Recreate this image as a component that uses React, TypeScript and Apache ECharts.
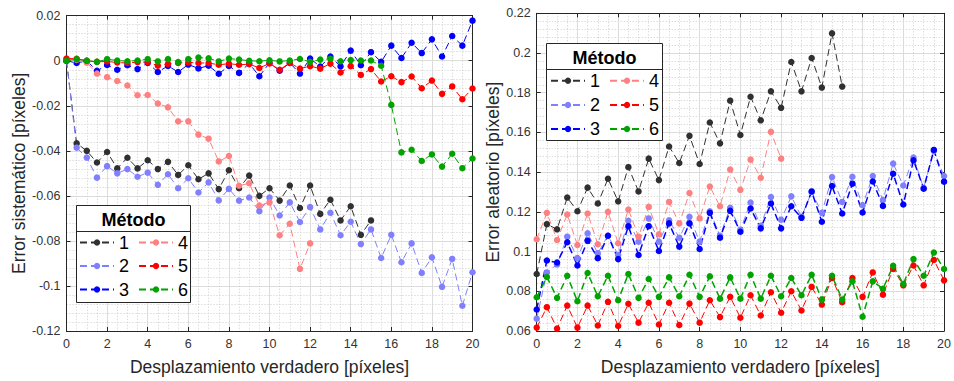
import React, { useEffect, useRef } from "react";
import * as echarts from "echarts";

const xs = [0, 0.5, 1, 1.5, 2, 2.5, 3, 3.5, 4, 4.5, 5, 5.5, 6, 6.5, 7, 7.5, 8, 8.5, 9, 9.5, 10, 10.5, 11, 11.5, 12, 12.5, 13, 13.5, 14, 14.5, 15, 15.5, 16, 16.5, 17, 17.5, 18, 18.5, 19, 19.5, 20];

// Error sistemático (left panel)
const sys1 = [0, -0.0367, -0.04, -0.0452, -0.0405, -0.0478, -0.0431, -0.0478, -0.0442, -0.0481, -0.0449, -0.0507, -0.0464, -0.0526, -0.05, -0.057, -0.0486, -0.0566, -0.051, -0.06, -0.0566, -0.0621, -0.0554, -0.0654, -0.0554, -0.068, -0.0617, -0.0709, -0.0646, -0.0773, -0.0709];
const sys2 = [0, -0.0386, -0.043, -0.0519, -0.0468, -0.05, -0.0481, -0.0515, -0.0497, -0.0551, -0.0504, -0.0566, -0.0522, -0.0585, -0.054, -0.062, -0.0569, -0.0621, -0.0607, -0.0668, -0.0607, -0.0687, -0.0629, -0.0716, -0.065, -0.0749, -0.0675, -0.0775, -0.0715, -0.0814, -0.0749, -0.0876, -0.0773, -0.0895, -0.0811, -0.0942, -0.0873, -0.1004, -0.088, -0.1088, -0.0939];
const sys3 = [0, -0.001, 0, -0.0045, -0.0019, -0.004, -0.002, -0.0037, -0.001, -0.005, -0.0023, -0.005, -0.0017, -0.0034, -0.0022, -0.0058, -0.0023, -0.0054, -0.0012, -0.0069, -0.001, -0.0044, -0.001, -0.0057, 0.001, -0.0026, 0.0019, -0.0025, 0.0045, -0.002, 0.0038, -0.0005, 0.0067, 0.0012, 0.008, 0.0034, 0.0095, 0.0019, 0.011, 0.0067, 0.0178];
const sys4 = [0.0008, 0.0004, -0.0009, -0.0057, -0.0073, -0.009, -0.011, -0.0153, -0.0152, -0.019, -0.0207, -0.0269, -0.0269, -0.0328, -0.0346, -0.0447, -0.0423, -0.0555, -0.0544, -0.0643, -0.0629, -0.0775, -0.0724, -0.0924, -0.0811];
const sys5 = [0.001, 0.0009, 0, -0.0005, -0.0003, -0.0008, -0.001, -0.0006, -0.0006, -0.0022, -0.0014, -0.001, -0.0007, -0.001, -0.001, -0.0018, -0.0013, -0.0018, -0.0015, -0.0032, -0.0012, -0.004, -0.001, -0.0035, -0.0024, -0.0035, -0.0013, -0.0052, -0.0024, -0.0063, -0.0037, -0.0092, -0.0069, -0.0095, -0.007, -0.0122, -0.0088, -0.0147, -0.0114, -0.0171, -0.0123];
const sys6 = [0, 0.0007, 0, -0.0005, 0.0007, 0.0001, -0.0002, 0.0001, 0.0007, -0.0003, 0.0007, -0.0006, 0.0007, 0.0014, 0.0011, -0.0003, 0.001, 0.0005, 0, -0.0002, 0.0002, -0.0003, 0.0001, 0.0008, -0.0005, 0.0005, 0.0009, -0.0002, 0.0003, 0.0001, 0.0001, -0.0022, -0.0196, -0.0407, -0.0395, -0.0445, -0.0416, -0.047, -0.0413, -0.0477, -0.0434];

// Error aleatorio (right panel)
const ale1 = [0.0887, 0.1138, 0.1112, 0.1272, 0.1203, 0.1322, 0.1242, 0.1367, 0.1253, 0.1425, 0.1303, 0.1468, 0.136, 0.1529, 0.1446, 0.1583, 0.1441, 0.165, 0.1545, 0.176, 0.1587, 0.178, 0.1661, 0.1807, 0.1724, 0.1955, 0.1807, 0.1975, 0.1826, 0.2099, 0.1831];
const ale2 = [0.0662, 0.0895, 0.0935, 0.1075, 0.0967, 0.1092, 0.0992, 0.108, 0.0983, 0.1155, 0.105, 0.1167, 0.105, 0.1158, 0.107, 0.1175, 0.105, 0.1203, 0.108, 0.122, 0.111, 0.1247, 0.113, 0.1275, 0.116, 0.1278, 0.1175, 0.13, 0.1195, 0.1375, 0.125, 0.1377, 0.1233, 0.138, 0.126, 0.1443, 0.1333, 0.1474, 0.132, 0.1507, 0.138];
const ale3 = [0.0708, 0.0955, 0.0945, 0.1047, 0.093, 0.1055, 0.0967, 0.108, 0.0962, 0.1128, 0.0983, 0.1128, 0.1003, 0.1142, 0.1025, 0.1142, 0.1013, 0.1195, 0.107, 0.1205, 0.11, 0.1217, 0.1117, 0.1242, 0.1117, 0.1228, 0.117, 0.1303, 0.115, 0.133, 0.1192, 0.1342, 0.1197, 0.1353, 0.123, 0.1392, 0.1237, 0.146, 0.1317, 0.1512, 0.1352];
const ale4 = [0.1062, 0.1195, 0.1058, 0.1187, 0.1033, 0.1192, 0.1037, 0.12, 0.1042, 0.1212, 0.1075, 0.1225, 0.1087, 0.125, 0.1142, 0.1295, 0.1167, 0.1328, 0.1228, 0.1413, 0.1311, 0.1463, 0.1372, 0.1603, 0.1468];
const ale5 = [0.0617, 0.072, 0.0612, 0.0728, 0.0617, 0.0728, 0.0628, 0.0747, 0.0625, 0.0737, 0.0642, 0.0742, 0.0633, 0.0742, 0.063, 0.0738, 0.0642, 0.0755, 0.067, 0.0772, 0.0667, 0.078, 0.0678, 0.0795, 0.0692, 0.08, 0.0703, 0.0822, 0.0733, 0.0867, 0.0745, 0.0867, 0.0772, 0.0895, 0.0783, 0.0913, 0.083, 0.093, 0.083, 0.0958, 0.0855];
const ale6 = [0.077, 0.0872, 0.0767, 0.0878, 0.075, 0.0892, 0.0775, 0.0878, 0.0755, 0.0887, 0.0767, 0.0862, 0.0772, 0.087, 0.0775, 0.0883, 0.0772, 0.0875, 0.0763, 0.087, 0.0763, 0.0883, 0.0763, 0.0878, 0.0775, 0.0867, 0.078, 0.0883, 0.0758, 0.0878, 0.0758, 0.085, 0.0672, 0.085, 0.0813, 0.0928, 0.0837, 0.0962, 0.0878, 0.0995, 0.0912];

const methodNames = ["1", "2", "3", "4", "5", "6"];
const legendRows = [["1", "4"], ["2", "5"], ["3", "6"]];
const colors = ["#303030", "#8080ff", "#0000ff", "#ff8080", "#ff0000", "#00a300"];
const xTicks = { min: 0, max: 20, interval: 2 };
const leftYTicks = { min: -0.12, max: 0.02, interval: 0.02 };
const rightYTicks = { min: 0.06, max: 0.22, interval: 0.02 };

const FONT = '"Liberation Sans", Arial, Helvetica, sans-serif';
const AX = "#262626";
const TITLE_SIZE = 17.5;

function fmt(v: number) {
  return String(parseFloat(v.toFixed(3)));
}

function xAxes(gridIndex: number) {
  return [
    {
      type: "value", gridIndex, ...xTicks, position: "bottom",
      axisLine: { show: true, onZero: false, lineStyle: { color: AX } },
      axisTick: { show: true, inside: true, length: 4, lineStyle: { color: AX } },
      axisLabel: { color: "#333", fontSize: 12.5, fontFamily: FONT, margin: 6, formatter: fmt },
      splitLine: { show: true, lineStyle: { color: "#dcdcdc" } },
      minorTick: { show: false, splitNumber: 4 },
      minorSplitLine: { show: true, lineStyle: { color: "#cdcdcd", type: [1, 2] } },
      name: "Desplazamiento verdadero [píxeles]", nameLocation: "middle", nameGap: 27,
      nameTextStyle: { fontSize: TITLE_SIZE, fontFamily: FONT, color: AX },
    },
    {
      type: "value", gridIndex, ...xTicks, position: "top",
      axisLine: { show: true, onZero: false, lineStyle: { color: AX } },
      axisTick: { show: true, inside: true, length: 4, lineStyle: { color: AX } },
      axisLabel: { show: false },
      splitLine: { show: false },
    },
  ];
}

function yAxes(gridIndex: number, ticks: any, name: string, nameGap: number) {
  return [
    {
      type: "value", gridIndex, ...ticks, position: "left",
      axisLine: { show: true, onZero: false, lineStyle: { color: AX } },
      axisTick: { show: true, inside: true, length: 4, lineStyle: { color: AX } },
      axisLabel: { color: "#333", fontSize: 12.5, fontFamily: FONT, margin: 6, formatter: fmt },
      splitLine: { show: true, lineStyle: { color: "#dcdcdc" } },
      minorTick: { show: false, splitNumber: 5 },
      minorSplitLine: { show: true, lineStyle: { color: "#cdcdcd", type: [1, 2] } },
      name, nameLocation: "middle", nameGap,
      nameTextStyle: { fontSize: TITLE_SIZE, fontFamily: FONT, color: AX },
    },
    {
      type: "value", gridIndex, ...ticks, position: "right",
      axisLine: { show: true, onZero: false, lineStyle: { color: AX } },
      axisTick: { show: true, inside: true, length: 4, lineStyle: { color: AX } },
      axisLabel: { show: false },
      splitLine: { show: false },
    },
  ];
}

function mk(name: string, vals: number[], color: string, axisIdx: number, width: number) {
  return {
    type: "line", name, xAxisIndex: axisIdx, yAxisIndex: axisIdx,
    data: vals.map((v, i) => [xs[i], v]),
    symbol: "circle", symbolSize: 6.5, showSymbol: true, clip: false,
    lineStyle: { color, width, type: [7, 4] },
    itemStyle: { color },
    emphasis: { disabled: true },
  };
}

function legendBox(x: number, y: number, w: number, h: number, sepY: number) {
  return [
    { type: "rect", z: 10, shape: { x, y, width: w, height: h }, style: { fill: "#fff", stroke: AX, lineWidth: 1 } },
    { type: "line", z: 11, shape: { x1: x, y1: sepY, x2: x + w, y2: sepY }, style: { stroke: AX, lineWidth: 1 } },
    { type: "text", z: 11, x: x + w / 2, y: (y + sepY) / 2 + 1, style: { text: "Método", font: `bold 18px ${FONT}`, fill: "#000", textAlign: "center", textVerticalAlign: "middle" } },
  ];
}

function legendsFor(left: number, rowYs: number[], prefix: string) {
  return legendRows.map((row, r) => ({
    orient: "horizontal", padding: 0, itemGap: 9, itemWidth: 34, itemHeight: 8,
    selectedMode: false, z: 20, left, top: rowYs[r] - 10,
    textStyle: { fontSize: 18, fontFamily: FONT, color: "#000" },
    data: row.map((n) => prefix + n),
    formatter: (n: string) => n.replace("r", ""),
  }));
}

export default function App() {
  const ref = useRef<HTMLDivElement>(null);
  useEffect(() => {
    if (!ref.current) return;
    const chart = echarts.init(ref.current, null, { renderer: "svg" });
    const sysVals = [sys1, sys2, sys3, sys4, sys5, sys6];
    const aleVals = [ale1, ale2, ale3, ale4, ale5, ale6];
    const series: any[] = [];
    methodNames.forEach((n, i) => series.push(mk(n, sysVals[i], colors[i], 0, 1)));
    methodNames.forEach((n, i) => series.push(mk("r" + n, aleVals[i], colors[i], 2, i === 2 || i === 5 ? 1.5 : 1)));
    chart.setOption({
      animation: false,
      grid: [
        { left: 66.5, top: 15.7, width: 406, height: 318 },
        { left: 536.7, top: 13.3, width: 410, height: 320 },
      ],
      xAxis: [...xAxes(0), ...xAxes(1)],
      yAxis: [
        ...yAxes(0, leftYTicks, "Error sistemático [píxeles]", 38),
        ...yAxes(1, rightYTicks, "Error aleatorio [píxeles]", 28),
      ],
      legend: [...legendsFor(79, [243.5, 267, 290.5], ""), ...legendsFor(550, [81.7, 106, 130], "r")],
      graphic: [...legendBox(76.5, 205.5, 114, 97, 231.5), ...legendBox(546.5, 43.5, 116, 97, 69.5)],
      series,
    });
    return () => chart.dispose();
  }, []);
  return <div ref={ref} style={{ position: "fixed", left: 0, top: 0, width: 954, height: 381, background: "#fff" }} />;
}
